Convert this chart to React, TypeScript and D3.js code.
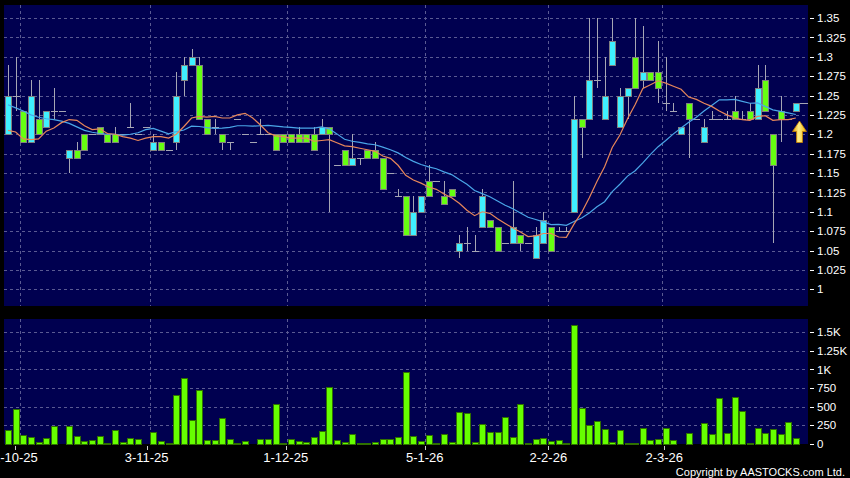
import React from 'react';
import * as d3 from 'd3';

// ---- Data ----
const opens = [
  1.20, 1.25, 1.23, 1.19, 1.22, 1.21, 1.23, 1.23, 1.17, 1.18,
  1.20, 1.20, 1.21, 1.20, 1.20, 1.20, 1.21, 1.20, 1.21, 1.18,
  1.19, 1.18, 1.19, 1.27, 1.29, 1.29, 1.22, 1.21, 1.20, 1.19,
  1.22, 1.20, 1.19, 1.20, 1.20, 1.20, 1.20, 1.20, 1.20, 1.20,
  1.20, 1.20, 1.21, 1.16, 1.18, 1.16, 1.17, 1.18, 1.18, 1.17,
  1.15, 1.12, 1.12, 1.07, 1.10, 1.14, 1.14, 1.12, 1.13, 1.05,
  1.06, 1.05, 1.08, 1.09, 1.08, 1.06, 1.06, 1.07, 1.06, 1.04,
  1.06, 1.08, 1.075, 1.075, 1.10, 1.22, 1.22, 1.27, 1.22, 1.29,
  1.21, 1.25, 1.30, 1.27, 1.28, 1.28, 1.24, 1.23, 1.20, 1.24,
  1.22, 1.19, 1.22, 1.22, 1.22, 1.23, 1.22, 1.23, 1.22, 1.27,
  1.20, 1.23, 1.22, 1.23,
];
const highs = [
  1.29, 1.30, 1.23, 1.27, 1.27, 1.23, 1.26, 1.23, 1.18, 1.19,
  1.20, 1.20, 1.21, 1.20, 1.21, 1.20, 1.24, 1.20, 1.21, 1.20,
  1.19, 1.18, 1.28, 1.30, 1.31, 1.30, 1.22, 1.22, 1.20, 1.19,
  1.22, 1.20, 1.19, 1.22, 1.20, 1.20, 1.20, 1.20, 1.21, 1.20,
  1.21, 1.22, 1.21, 1.16, 1.18, 1.20, 1.17, 1.18, 1.19, 1.17,
  1.15, 1.13, 1.12, 1.12, 1.12, 1.16, 1.14, 1.14, 1.13, 1.07,
  1.08, 1.07, 1.13, 1.09, 1.08, 1.06, 1.14, 1.07, 1.06, 1.08,
  1.10, 1.08, 1.08, 1.08, 1.25, 1.22, 1.35, 1.35, 1.30, 1.35,
  1.26, 1.26, 1.35, 1.34, 1.28, 1.32, 1.30, 1.24, 1.21, 1.24,
  1.22, 1.22, 1.23, 1.22, 1.23, 1.25, 1.23, 1.24, 1.29, 1.29,
  1.20, 1.25, 1.22, 1.24,
];
const lows = [
  1.20, 1.23, 1.19, 1.19, 1.20, 1.21, 1.22, 1.23, 1.15, 1.17,
  1.18, 1.20, 1.20, 1.19, 1.19, 1.20, 1.21, 1.20, 1.21, 1.18,
  1.18, 1.18, 1.18, 1.25, 1.29, 1.22, 1.20, 1.20, 1.18, 1.18,
  1.22, 1.20, 1.19, 1.20, 1.20, 1.18, 1.19, 1.19, 1.19, 1.19,
  1.18, 1.20, 1.10, 1.16, 1.16, 1.16, 1.16, 1.17, 1.17, 1.13,
  1.15, 1.12, 1.07, 1.07, 1.10, 1.12, 1.14, 1.11, 1.12, 1.04,
  1.05, 1.05, 1.08, 1.08, 1.05, 1.06, 1.06, 1.05, 1.06, 1.04,
  1.06, 1.05, 1.075, 1.075, 1.10, 1.17, 1.22, 1.26, 1.22, 1.29,
  1.21, 1.22, 1.26, 1.26, 1.27, 1.24, 1.23, 1.23, 1.20, 1.17,
  1.22, 1.19, 1.22, 1.22, 1.22, 1.22, 1.22, 1.22, 1.22, 1.23,
  1.06, 1.19, 1.22, 1.23,
];
const closes = [
  1.25, 1.25, 1.19, 1.25, 1.20, 1.23, 1.23, 1.23, 1.18, 1.17,
  1.18, 1.20, 1.20, 1.19, 1.19, 1.20, 1.21, 1.20, 1.21, 1.19,
  1.18, 1.18, 1.25, 1.29, 1.30, 1.22, 1.20, 1.21, 1.19, 1.19,
  1.22, 1.20, 1.19, 1.20, 1.20, 1.18, 1.19, 1.19, 1.19, 1.19,
  1.18, 1.21, 1.20, 1.16, 1.16, 1.17, 1.17, 1.17, 1.17, 1.13,
  1.15, 1.12, 1.07, 1.10, 1.12, 1.12, 1.14, 1.11, 1.12, 1.06,
  1.06, 1.05, 1.12, 1.08, 1.05, 1.06, 1.08, 1.06, 1.06, 1.07,
  1.09, 1.05, 1.075, 1.075, 1.22, 1.21, 1.27, 1.27, 1.25, 1.32,
  1.25, 1.26, 1.26, 1.28, 1.27, 1.26, 1.24, 1.23, 1.21, 1.22,
  1.22, 1.21, 1.22, 1.22, 1.22, 1.22, 1.22, 1.22, 1.26, 1.23,
  1.16, 1.22, 1.22, 1.24,
];
const volumes = [
  184, 467, 112, 90, 22, 81, 238, 0, 238, 99,
  31, 45, 103, 13, 180, 18, 76, 63, 0, 157,
  40, 13, 651, 880, 314, 723, 45, 49, 341, 67,
  13, 36, 0, 67, 58, 539, 10, 63, 36, 22,
  94, 166, 758, 45, 22, 126, 5, 5, 18, 58,
  63, 94, 969, 99, 31, 117, 13, 135, 22, 426,
  417, 18, 265, 162, 162, 359, 90, 530, 13, 63,
  76, 31, 49, 13, 1593, 476, 251, 305, 193, 22,
  188, 9, 9, 206, 45, 58, 206, 45, 0, 148,
  0, 278, 130, 619, 139, 624, 444, 13, 206, 139,
  193, 130, 296, 72,
];
// Moving-average values at the left edge (history before the first candle)
const ma10Head = [1.205, 1.203, 1.194, 1.193, 1.194, 1.204, 1.208, 1.215, 1.219];
const ma20Head = [1.238, 1.234, 1.23, 1.225, 1.222, 1.22, 1.219, 1.217, 1.214, 1.2095,
  1.205, 1.2026, 1.201, 1.2, 1.2, 1.199, 1.2, 1.202, 1.206];

const priceTicks = [1, 1.025, 1.05, 1.075, 1.1, 1.125, 1.15, 1.175, 1.2, 1.225, 1.25, 1.275, 1.3, 1.325, 1.35];
const volumeTicks = [0, 250, 500, 750, 1000, 1250, 1500];
const dateLabels = ['2-10-25', '3-11-25', '1-12-25', '5-1-26', '2-2-26', '2-3-26'];
const dateLabelIndex = [1, 18, 36, 54, 70, 85];

const W = 850;
const H = 478;
const PL = 4, PR = 808;
const P_TOP = 5, P_BOT = 306;
const V_TOP = 319, V_BOT = 444;

const FONT = '"Liberation Sans", Arial, sans-serif';

function sma(period: number, head: number[]) {
  return closes.map((_, i) =>
    i < period - 1 ? head[i] : (d3.mean(closes.slice(i - period + 1, i + 1)) as number)
  );
}

export default function App() {
  const N = closes.length;
  const x = d3.scaleLinear().domain([0, N - 1]).range([8, 795.8]);
  const tickX = d3.scaleLinear().domain([0, N - 1]).range([7.6, 803.3]);
  const step = x(1) - x(0);
  const gridX = (i: number) => x(i) + step * 0.54;
  const y = d3.scaleLinear().domain([1, 1.35]).range([289.3, 18]);
  const vy = d3.scaleLinear().domain([0, 1500]).range([443.7, 332.3]);

  const ma10 = sma(10, ma10Head);
  const ma20 = sma(20, ma20Head);
  const line = d3.line<number>().x((_, i) => x(i)).y((d) => y(d));

  const gridColor = '#5a5a92';
  const wickColor = '#a6a6b4';
  const up = '#3ff0ff';
  const down = '#66ff11';

  const fmtP = (v: number) => String(+v.toFixed(3));
  const fmtV = (v: number) => (v >= 1000 ? `${+(v / 1000).toFixed(2)}K` : `${v}`);

  const lastX = x(N - 1);

  return (
    <div style={{ position: 'absolute', left: 0, top: 0, width: W, height: H }}>
      <svg width={W} height={H} style={{ display: 'block', background: '#000' }}>
        <defs>
          <linearGradient id="arrowGrad" x1="0" x2="1" y1="0" y2="0">
            <stop offset="0" stopColor="#e09a00" />
            <stop offset="0.45" stopColor="#fff08a" />
            <stop offset="1" stopColor="#f0b000" />
          </linearGradient>
        </defs>
        <rect x={0} y={0} width={W} height={H} fill="#000" />
        {/* panels */}
        <rect x={PL} y={P_TOP} width={PR - PL} height={P_BOT - P_TOP} fill="#000050" />
        <rect x={PL} y={V_TOP} width={PR - PL} height={V_BOT - V_TOP} fill="#000050" />

        {/* grid */}
        <g stroke={gridColor} strokeWidth={1} strokeDasharray="3,3" shapeRendering="crispEdges">
          {priceTicks.map((t) => (
            <line key={'pg' + t} x1={PL} x2={PR} y1={Math.round(y(t)) + 0.5} y2={Math.round(y(t)) + 0.5} />
          ))}
          {volumeTicks.filter((t) => t > 0).map((t) => (
            <line key={'vg' + t} x1={PL} x2={PR} y1={Math.round(vy(t)) + 0.5} y2={Math.round(vy(t)) + 0.5} />
          ))}
          {dateLabelIndex.map((i) => (
            <g key={'dg' + i}>
              <line x1={Math.round(gridX(i)) + 0.5} x2={Math.round(gridX(i)) + 0.5} y1={P_TOP} y2={P_BOT} />
              <line x1={Math.round(gridX(i)) + 0.5} x2={Math.round(gridX(i)) + 0.5} y1={V_TOP} y2={V_BOT} />
            </g>
          ))}
        </g>

        {/* candles */}
        <g shapeRendering="crispEdges">
          {closes.map((c, i) => {
            const o = opens[i];
            const cx = Math.round(x(i));
            const wick = (
              <line x1={cx + 0.5} x2={cx + 0.5} y1={y(highs[i])} y2={y(lows[i])} stroke={wickColor} strokeWidth={1} />
            );
            if (o === c) {
              return (
                <g key={'c' + i}>
                  {wick}
                  <line x1={cx - 3} x2={cx + 4} y1={Math.round(y(c)) + 0.5} y2={Math.round(y(c)) + 0.5} stroke={wickColor} strokeWidth={1} />
                </g>
              );
            }
            const top = Math.round(y(Math.max(o, c)));
            const bot = Math.round(y(Math.min(o, c)));
            return (
              <g key={'c' + i}>
                {wick}
                <rect x={cx - 3 + 0.5} y={top + 0.5} width={6} height={Math.max(1, bot - top)} fill={c > o ? up : down} stroke="#808080" strokeWidth={1} />
              </g>
            );
          })}
          {/* last price line */}
          <line x1={Math.round(lastX) + 4} x2={PR} y1={Math.round(y(closes[N - 1])) + 0.5} y2={Math.round(y(closes[N - 1])) + 0.5} stroke={wickColor} strokeWidth={1} />
        </g>

        {/* moving averages */}
        <path d={line(ma20) || ''} fill="none" stroke="#4aa6e8" strokeWidth={1.2} />
        <path d={line(ma10) || ''} fill="none" stroke="#e8875a" strokeWidth={1.2} />

        {/* arrow */}
        <path
          d="M799.5,121 L806.5,131.5 L802.5,131.5 L802.5,142.5 L796.5,142.5 L796.5,131.5 L792.5,131.5 Z"
          fill="url(#arrowGrad)"
          stroke="#c98400"
          strokeWidth={0.8}
        />

        {/* volume bars */}
        <g shapeRendering="crispEdges">
          {volumes.map((v, i) => {
            if (v <= 0) return null;
            const cx = Math.round(x(i));
            const top = Math.round(vy(v));
            const base = Math.round(vy(0));
            return (
              <rect key={'v' + i} x={cx - 3 + 0.5} y={top + 0.5} width={6} height={Math.max(1, base - top)} fill="#66ff00" stroke="#2f7000" strokeWidth={1} />
            );
          })}
        </g>

        {/* price axis */}
        <g fontFamily={FONT} fontSize={11.5} fill="#fff">
          {priceTicks.map((t) => (
            <g key={'pt' + t}>
              <line x1={810} x2={814} y1={Math.round(y(t)) + 0.5} y2={Math.round(y(t)) + 0.5} stroke="#fff" strokeWidth={1} shapeRendering="crispEdges" />
              <text x={817} y={y(t)} dy="0.36em">{fmtP(t)}</text>
            </g>
          ))}
          {volumeTicks.map((t) => (
            <g key={'vt' + t}>
              <line x1={810} x2={814} y1={Math.round(vy(t)) + 0.5} y2={Math.round(vy(t)) + 0.5} stroke="#fff" strokeWidth={1} shapeRendering="crispEdges" />
              <text x={817} y={vy(t)} dy="0.36em">{fmtV(t)}</text>
            </g>
          ))}
        </g>

        {/* date axis */}
        <g fontFamily={FONT} fontSize={13} fill="#fff">
          {dateLabelIndex.map((i, k) => (
            <g key={'dt' + i}>
              <line x1={Math.round(tickX(i)) + 0.5} x2={Math.round(tickX(i)) + 0.5} y1={446} y2={450} stroke="#ccc" strokeWidth={1} />
              <text x={tickX(i)} y={462.3} textAnchor="middle">{dateLabels[k]}</text>
            </g>
          ))}
        </g>

        <text x={845} y={475.5} textAnchor="end" fontFamily={FONT} fontSize={11} fill="#fff">
          Copyright by AASTOCKS.com Ltd.
        </text>
      </svg>
    </div>
  );
}
